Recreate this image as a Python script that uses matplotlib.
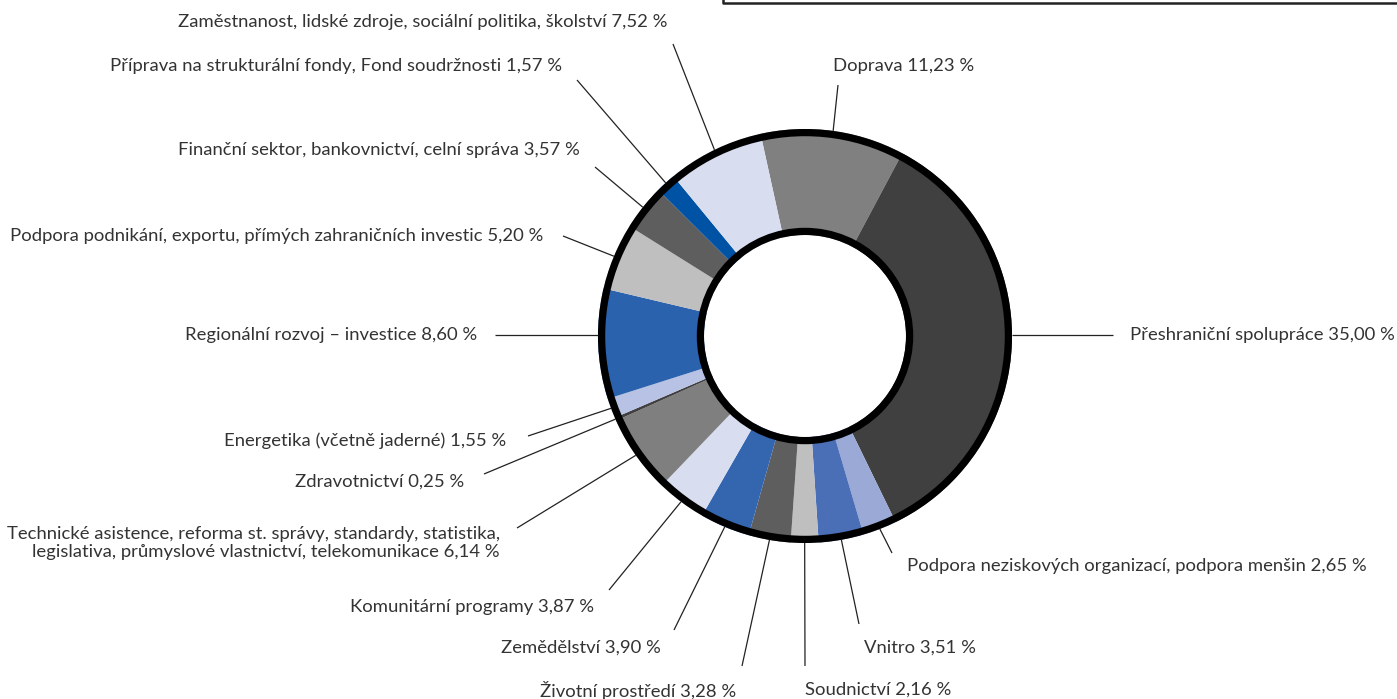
import matplotlib
matplotlib.use("Agg")
import matplotlib.pyplot as plt
import numpy as np
from matplotlib.patches import Circle

# ---- data (clockwise from the top) ----
labels = [
    "Doprava 11,23 %",
    "Přeshraniční spolupráce 35,00 %",
    "Podpora neziskových organizací, podpora menšin 2,65 %",
    "Vnitro 3,51 %",
    "Soudnictví 2,16 %",
    "Životní prostředí 3,28 %",
    "Zemědělství 3,90 %",
    "Komunitární programy 3,87 %",
    "Technické asistence, reforma st. správy, standardy, statistika,\n"
    "legislativa, průmyslové vlastnictví, telekomunikace 6,14 %",
    "Zdravotnictví 0,25 %",
    "Energetika (včetně jaderné) 1,55 %",
    "Regionální rozvoj – investice 8,60 %",
    "Podpora podnikání, exportu, přímých zahraničních investic 5,20 %",
    "Finanční sektor, bankovnictví, celní správa 3,57 %",
    "Příprava na strukturální fondy, Fond soudržnosti 1,57 %",
    "Zaměstnanost, lidské zdroje, sociální politika, školství 7,52 %",
]
shares = [11.23, 35.00, 2.65, 3.51, 2.16, 3.28, 3.90, 3.87,
          6.14, 0.25, 1.55, 8.60, 5.20, 3.57, 1.57, 7.52]
colors = ["#808080", "#404040", "#9aa9d6", "#4a6fb6", "#bfbfbf", "#5e5e5e",
          "#3465af", "#d8ddf0", "#7f7f7f", "#404040", "#b7c2e4", "#2b62ad",
          "#bfbfbf", "#5e5e5e", "#0052a4", "#d8ddf0"]

# ---- layout (pixel coords, y downwards) ----
W, H = 1397, 699
CX, CY = 805, 336
R_OUT, R_IN = 207, 101
RING_LW = 5.2
# leader line end, text anchor, alignment, horizontal leader?
label_pos = [
    ((838, 85), (833, 66), "left", False),
    ((1113, 335), (1130, 335), "left", True),
    ((892, 553), (907, 566), "left", False),
    ((859, 624), (864, 648), "left", False),
    ((805, 666), (805, 690), "left", False),
    ((742, 666), (736, 690), "right", False),
    ((674, 630), (661, 648), "right", False),
    ((609, 590), (594, 607), "right", False),
    ((517, 528), (500, 543), "right", False),
    ((484, 474), (464, 482), "right", False),
    ((528, 436), (506, 441), "right", False),
    ((495, 335), (477, 335), "right", True),
    ((563, 236), (543, 236), "right", False),
    ((595, 167), (580, 150), "right", False),
    ((577, 80), (562, 66), "right", False),
    ((673, 44), (668, 22), "right", False),
]
FONT = ["Lato", "DejaVu Sans"]
TEXT_COLOR = "#333333"

fig = plt.figure(figsize=(W / 100, H / 100), dpi=100)
ax = fig.add_axes([0, 0, 1, 1])

# y axis is inverted, so counterclock=True draws clockwise on screen
wedges, _ = ax.pie(shares, colors=colors, radius=R_OUT, center=(CX, CY),
                   startangle=-102.4, counterclock=True,
                   wedgeprops=dict(width=R_OUT - R_IN, linewidth=0))

ax.add_patch(Circle((CX, CY), R_OUT - 3.6, fill=False, lw=RING_LW, ec="black"))
ax.add_patch(Circle((CX, CY), R_IN + 3.6, fill=False, lw=RING_LW, ec="black"))

for w, lab, (end, txt, ha, horiz) in zip(wedges, labels, label_pos):
    if horiz:
        # straight leader that meets the ring at the label's height
        dx = np.sqrt(R_OUT ** 2 - (end[1] - CY) ** 2)
        x0 = CX + dx if end[0] > CX else CX - dx
        y0 = end[1]
    else:
        mid = np.deg2rad((w.theta1 + w.theta2) / 2)
        x0 = CX + R_OUT * np.cos(mid)
        y0 = CY + R_OUT * np.sin(mid)
    ax.plot([x0, end[0]], [y0, end[1]], color="#222222", lw=0.9,
            solid_capstyle="butt")
    ax.text(txt[0], txt[1], lab, ha=ha, va="center", fontsize=13.3,
            family=FONT, fontweight="normal", color=TEXT_COLOR,
            multialignment="right", linespacing=1.2)

# cropped frame of a neighbouring box at the top right
ax.plot([723, 723, W + 5], [-5, 3, 3], color="#222222", lw=1.8)

ax.set_xlim(0, W)
ax.set_ylim(H, 0)
ax.set_aspect("equal", adjustable="box")
ax.axis("off")

fig.savefig("out.png", dpi=100)
